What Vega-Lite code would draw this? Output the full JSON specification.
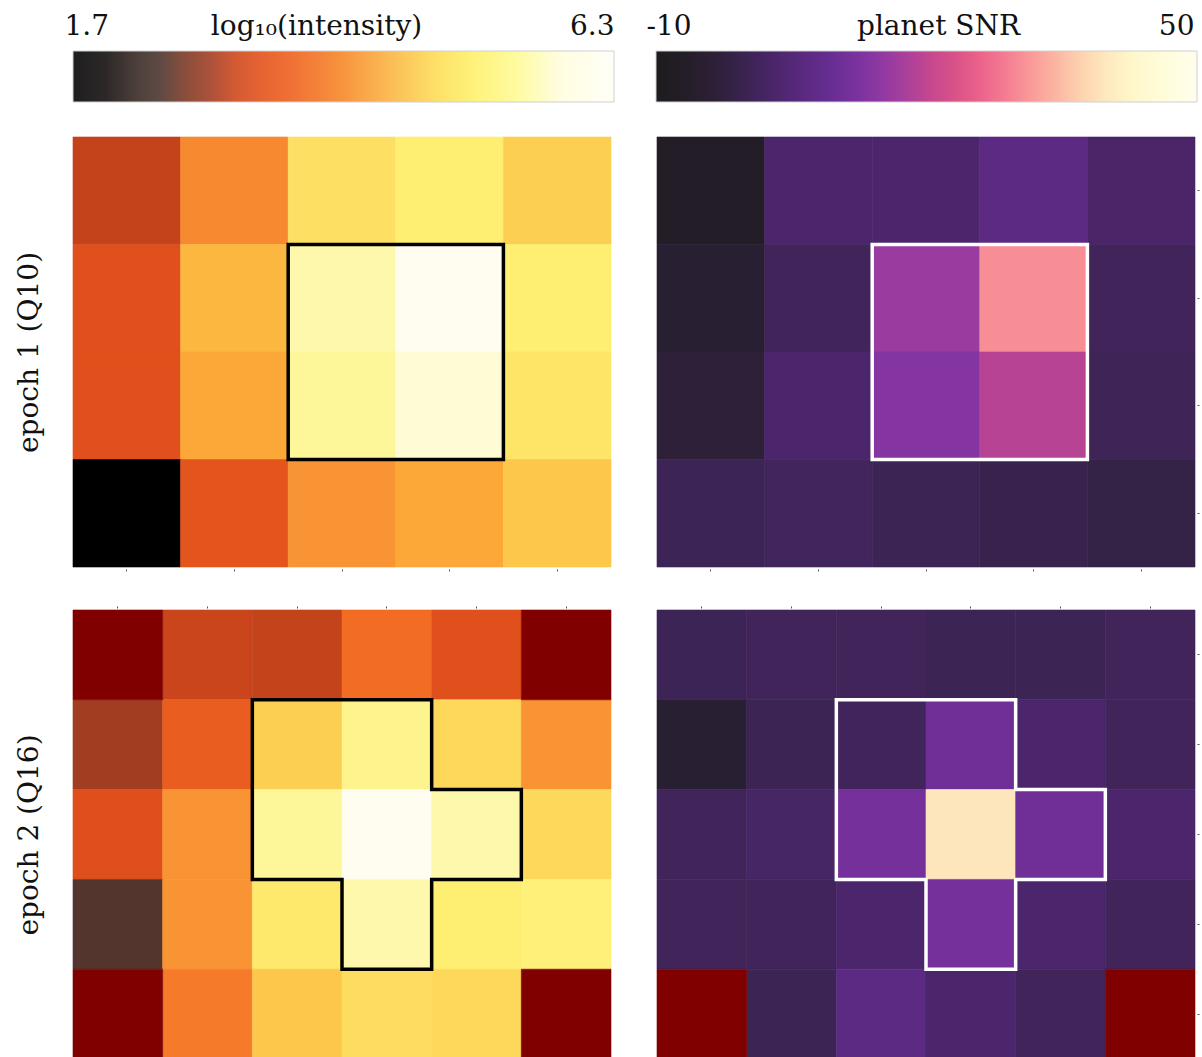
{
  "$schema": "https://vega.github.io/schema/vega-lite/v6.json",
  "background": "white",
  "padding": {"left": 15, "top": 12, "right": 0, "bottom": 0},
  "config": {
    "view": {"stroke": null},
    "font": "DejaVu Serif",
    "axis": {"labelFont": "DejaVu Serif", "titleFont": "DejaVu Serif", "grid": false}
  },
  "datasets": {
    "cbl": [{"lo": 1.7, "hi": 6.3, "k": "cb"}],
    "cbr": [{"lo": -10, "hi": 50, "k": "cb"}],
    "ap1": [{"i": 0, "x": 2, "y": 1}, {"i": 1, "x": 4, "y": 1}, {"i": 2, "x": 4, "y": 3}, {"i": 3, "x": 2, "y": 3}, {"i": 4, "x": 2, "y": 1}],
    "ap2": [{"i": 0, "x": 2, "y": 1}, {"i": 1, "x": 4, "y": 1}, {"i": 2, "x": 4, "y": 2}, {"i": 3, "x": 5, "y": 2}, {"i": 4, "x": 5, "y": 3}, {"i": 5, "x": 4, "y": 3}, {"i": 6, "x": 4, "y": 4}, {"i": 7, "x": 3, "y": 4}, {"i": 8, "x": 3, "y": 3}, {"i": 9, "x": 2, "y": 3}, {"i": 10, "x": 2, "y": 1}],
    "tl": [
      {"c": 0, "r": 0, "v": 3.0}, {"c": 1, "r": 0, "v": 3.9}, {"c": 2, "r": 0, "v": 4.8}, {"c": 3, "r": 0, "v": 5.1}, {"c": 4, "r": 0, "v": 4.6},
      {"c": 0, "r": 1, "v": 3.3}, {"c": 1, "r": 1, "v": 4.35}, {"c": 2, "r": 1, "v": 5.5}, {"c": 3, "r": 1, "v": 6.0}, {"c": 4, "r": 1, "v": 5.1},
      {"c": 0, "r": 2, "v": 3.3}, {"c": 1, "r": 2, "v": 4.2}, {"c": 2, "r": 2, "v": 5.4}, {"c": 3, "r": 2, "v": 5.75}, {"c": 4, "r": 2, "v": 4.9},
      {"c": 0, "r": 3, "v": 1.6}, {"c": 1, "r": 3, "v": 3.35}, {"c": 2, "r": 3, "v": 4.0}, {"c": 3, "r": 3, "v": 4.2}, {"c": 4, "r": 3, "v": 4.5}
    ],
    "bl": [
      {"c": 0, "r": 0, "v": null}, {"c": 1, "r": 0, "v": 3.05}, {"c": 2, "r": 0, "v": 2.98}, {"c": 3, "r": 0, "v": 3.6}, {"c": 4, "r": 0, "v": 3.3}, {"c": 5, "r": 0, "v": null},
      {"c": 0, "r": 1, "v": 2.7}, {"c": 1, "r": 1, "v": 3.45}, {"c": 2, "r": 1, "v": 4.6}, {"c": 3, "r": 1, "v": 5.3}, {"c": 4, "r": 1, "v": 4.7}, {"c": 5, "r": 1, "v": 4.0},
      {"c": 0, "r": 2, "v": 3.28}, {"c": 1, "r": 2, "v": 4.0}, {"c": 2, "r": 2, "v": 5.4}, {"c": 3, "r": 2, "v": 6.0}, {"c": 4, "r": 2, "v": 5.5}, {"c": 5, "r": 2, "v": 4.7},
      {"c": 0, "r": 3, "v": 2.3}, {"c": 1, "r": 3, "v": 4.0}, {"c": 2, "r": 3, "v": 5.0}, {"c": 3, "r": 3, "v": 5.5}, {"c": 4, "r": 3, "v": 5.1}, {"c": 5, "r": 3, "v": 5.15},
      {"c": 0, "r": 4, "v": null}, {"c": 1, "r": 4, "v": 3.75}, {"c": 2, "r": 4, "v": 4.5}, {"c": 3, "r": 4, "v": 4.75}, {"c": 4, "r": 4, "v": 4.7}, {"c": 5, "r": 4, "v": null}
    ],
    "tr": [
      {"c": 0, "r": 0, "v": -8}, {"c": 1, "r": 0, "v": 3.5}, {"c": 2, "r": 0, "v": 3.5}, {"c": 3, "r": 0, "v": 7}, {"c": 4, "r": 0, "v": 3},
      {"c": 0, "r": 1, "v": -5}, {"c": 1, "r": 1, "v": 1.0}, {"c": 2, "r": 1, "v": 16}, {"c": 3, "r": 1, "v": 30.5}, {"c": 4, "r": 1, "v": 1.0},
      {"c": 0, "r": 2, "v": -3.5}, {"c": 1, "r": 2, "v": 3.5}, {"c": 2, "r": 2, "v": 13.5}, {"c": 3, "r": 2, "v": 19}, {"c": 4, "r": 2, "v": 0.7},
      {"c": 0, "r": 3, "v": 0.5}, {"c": 1, "r": 3, "v": 1.5}, {"c": 2, "r": 3, "v": 0.2}, {"c": 3, "r": 3, "v": -0.5}, {"c": 4, "r": 3, "v": -1.5}
    ],
    "br": [
      {"c": 0, "r": 0, "v": 0.5}, {"c": 1, "r": 0, "v": 1.0}, {"c": 2, "r": 0, "v": 1.0}, {"c": 3, "r": 0, "v": 0.2}, {"c": 4, "r": 0, "v": 0.3}, {"c": 5, "r": 0, "v": 1.0},
      {"c": 0, "r": 1, "v": -5}, {"c": 1, "r": 1, "v": 0.3}, {"c": 2, "r": 1, "v": 1.0}, {"c": 3, "r": 1, "v": 10.5}, {"c": 4, "r": 1, "v": 3.5}, {"c": 5, "r": 1, "v": 1.0},
      {"c": 0, "r": 2, "v": 1.0}, {"c": 1, "r": 2, "v": 2.5}, {"c": 2, "r": 2, "v": 11.5}, {"c": 3, "r": 2, "v": 39.5}, {"c": 4, "r": 2, "v": 10.5}, {"c": 5, "r": 2, "v": 3.5},
      {"c": 0, "r": 3, "v": 1.0}, {"c": 1, "r": 3, "v": 1.0}, {"c": 2, "r": 3, "v": 3.5}, {"c": 3, "r": 3, "v": 11.5}, {"c": 4, "r": 3, "v": 3.5}, {"c": 5, "r": 3, "v": 1.0},
      {"c": 0, "r": 4, "v": null}, {"c": 1, "r": 4, "v": 0.3}, {"c": 2, "r": 4, "v": 7}, {"c": 3, "r": 4, "v": 3.5}, {"c": 4, "r": 4, "v": 1.0}, {"c": 5, "r": 4, "v": null}
    ]
  },
  "resolve": {"scale": {"color": "independent", "stroke": "independent", "x": "independent", "y": "independent"}},
  "spacing": 33,
  "vconcat": [
    {
      "hconcat": [
        {
          "width": 541, "height": 51,
          "data": {"name": "cbl"},
          "mark": {"type": "rect", "stroke": "#d0d0d0", "strokeWidth": 1,
            "fill": {"gradient": "linear", "x1": 0, "y1": 0, "x2": 1, "y2": 0, "stops": [
              {"offset": 0, "color": "#1e1e1e"}, {"offset": 0.06, "color": "#2c2828"}, {"offset": 0.12, "color": "#4e403b"},
              {"offset": 0.16, "color": "#5e4a44"}, {"offset": 0.21, "color": "#8c4e3b"}, {"offset": 0.26, "color": "#b0523a"},
              {"offset": 0.30, "color": "#d45a33"}, {"offset": 0.36, "color": "#e86632"}, {"offset": 0.40, "color": "#ef7034"},
              {"offset": 0.46, "color": "#f4853a"}, {"offset": 0.50, "color": "#f7953e"}, {"offset": 0.58, "color": "#fbb955"},
              {"offset": 0.67, "color": "#fde067"}, {"offset": 0.74, "color": "#fef27a"}, {"offset": 0.82, "color": "#fefba0"},
              {"offset": 0.90, "color": "#fffde0"}, {"offset": 1, "color": "#fffff8"}]}},
          "encoding": {
            "x": {"field": "lo", "type": "quantitative", "scale": {"domain": [1.7, 6.3], "nice": false, "zero": false},
              "axis": {"orient": "top", "values": [1.7, 6.3], "format": ".1f", "domain": false, "ticks": false, "tickSize": 0,
                "labelFontSize": 28, "labelColor": "#111", "labelPadding": 17, "labelBaseline": "alphabetic", "labelFlush": true,
                "labelOffset": {"condition": {"test": "datum.value < 3", "value": -9}, "value": 0},
                "title": "log₁₀(intensity)", "titleFontSize": 28, "titleFontWeight": "normal", "titleColor": "#111",
                "titleX": 243, "titleY": -17, "titleAlign": "center", "titleBaseline": "alphabetic"}},
            "x2": {"field": "hi"},
            "y": {"field": "k", "type": "nominal", "scale": {"paddingInner": 0, "paddingOuter": 0},
              "axis": {"labels": false, "ticks": false, "domain": false, "title": "e", "titleOpacity": 0, "titleFontSize": 28, "titleFontWeight": "normal", "titlePadding": 30}}
          }
        },
        {
          "width": 541, "height": 51,
          "data": {"name": "cbr"},
          "mark": {"type": "rect", "stroke": "#d0d0d0", "strokeWidth": 1,
            "fill": {"gradient": "linear", "x1": 0, "y1": 0, "x2": 1, "y2": 0, "stops": [
              {"offset": 0, "color": "#1e1c1f"}, {"offset": 0.04, "color": "#221d25"}, {"offset": 0.11, "color": "#2d2038"},
              {"offset": 0.175, "color": "#3d2456"}, {"offset": 0.24, "color": "#512773"}, {"offset": 0.32, "color": "#662d91"},
              {"offset": 0.375, "color": "#7c32a0"}, {"offset": 0.415, "color": "#8f38a2"}, {"offset": 0.457, "color": "#a63f9c"},
              {"offset": 0.505, "color": "#c4478f"}, {"offset": 0.553, "color": "#d95288"}, {"offset": 0.594, "color": "#ea608a"},
              {"offset": 0.643, "color": "#f47a92"}, {"offset": 0.69, "color": "#f99898"}, {"offset": 0.73, "color": "#fbb0a0"},
              {"offset": 0.78, "color": "#fdcfae"}, {"offset": 0.83, "color": "#fee8bd"}, {"offset": 0.88, "color": "#fff6cb"},
              {"offset": 0.93, "color": "#fffcd8"}, {"offset": 1, "color": "#fffeec"}]}},
          "encoding": {
            "x": {"field": "lo", "type": "quantitative", "scale": {"domain": [-10, 50], "nice": false, "zero": false},
              "axis": {"orient": "top", "values": [-10, 50], "format": "d", "labelExpr": "replace(datum.label, '−', '-')", "domain": false, "ticks": false, "tickSize": 0,
                "labelFontSize": 28, "labelColor": "#111", "labelPadding": 17, "labelBaseline": "alphabetic", "labelFlush": true,
                "labelOffset": {"condition": {"test": "datum.value < 0", "value": -10}, "value": -3},
                "title": "planet SNR", "titleFontSize": 28, "titleFontWeight": "normal", "titleColor": "#111",
                "titleX": 282, "titleY": -17, "titleAlign": "center", "titleBaseline": "alphabetic"}},
            "x2": {"field": "hi"}
          }
        }
      ],
      "spacing": 31,
      "resolve": {"scale": {"x": "independent", "y": "independent"}}
    },
    {
      "vconcat": [
        {
          "hconcat": [
            {
              "width": 538, "height": 430,
              "layer": [
                {
                  "data": {"name": "tl"},
                  "mark": {"type": "rect", "strokeWidth": 0.6},
                  "encoding": {
                    "x": {"field": "c", "type": "ordinal", "scale": {"paddingInner": 0, "paddingOuter": 0},
                      "axis": {"orient": "bottom", "labels": false, "domain": false, "ticks": true, "tickSize": 2, "tickColor": "#555", "offset": 2, "title": null}},
                    "y": {"field": "r", "type": "ordinal", "scale": {"paddingInner": 0, "paddingOuter": 0},
                      "axis": {"labels": false, "ticks": false, "domain": false, "title": "epoch 1 (Q10)", "titleFontSize": 28, "titleFontWeight": "normal", "titleColor": "#111", "titlePadding": 30}},
                    "color": {"field": "v", "type": "quantitative", "legend": null,
                      "scale": {"type": "linear", "clamp": true, "interpolate": "rgb",
                        "domain": [1.7, 2.0, 2.3, 2.7, 3.0, 3.3, 3.6, 3.9, 4.2, 4.5, 4.8, 5.1, 5.4, 5.7, 6.0, 6.3],
                        "range": ["#000000", "#2a1c18", "#54352d", "#a33d21", "#c5431b", "#e0501c", "#f26c24", "#f78a30", "#fba838", "#fcc74a", "#fde063", "#feee72", "#fef79a", "#fefbd0", "#fffdf0", "#fffff8"]}},
                    "stroke": {"field": "v", "type": "quantitative", "legend": null,
                      "scale": {"type": "linear", "clamp": true, "interpolate": "rgb",
                        "domain": [1.7, 2.0, 2.3, 2.7, 3.0, 3.3, 3.6, 3.9, 4.2, 4.5, 4.8, 5.1, 5.4, 5.7, 6.0, 6.3],
                        "range": ["#000000", "#2a1c18", "#54352d", "#a33d21", "#c5431b", "#e0501c", "#f26c24", "#f78a30", "#fba838", "#fcc74a", "#fde063", "#feee72", "#fef79a", "#fefbd0", "#fffdf0", "#fffff8"]}}
                  }
                },
                {
                  "data": {"name": "ap1"},
                  "mark": {"type": "line", "stroke": "black", "strokeWidth": 3.5, "strokeJoin": "miter", "strokeCap": "square", "clip": false},
                  "encoding": {
                    "x": {"field": "x", "type": "quantitative", "scale": {"domain": [0, 5], "nice": false, "zero": false}, "axis": null},
                    "y": {"field": "y", "type": "quantitative", "scale": {"domain": [0, 4], "nice": false, "zero": false, "reverse": true}, "axis": null},
                    "order": {"field": "i"}
                  }
                }
              ],
              "resolve": {"scale": {"x": "independent", "y": "independent"}}
            },
            {
              "width": 538, "height": 430,
              "layer": [
                {
                  "data": {"name": "tr"},
                  "mark": {"type": "rect", "strokeWidth": 0.6},
                  "encoding": {
                    "x": {"field": "c", "type": "ordinal", "scale": {"paddingInner": 0, "paddingOuter": 0},
                      "axis": {"orient": "bottom", "labels": false, "domain": false, "ticks": true, "tickSize": 2, "tickColor": "#555", "offset": 2, "title": null}},
                    "y": {"field": "r", "type": "ordinal", "scale": {"paddingInner": 0, "paddingOuter": 0},
                      "axis": {"orient": "right", "labels": false, "domain": false, "ticks": true, "tickSize": 2, "tickColor": "#555", "offset": 2, "title": null}},
                    "color": {"field": "v", "type": "quantitative", "legend": null,
                      "scale": {"type": "linear", "clamp": true, "interpolate": "rgb",
                        "domain": [-10, -3.4, 0.5, 4.4, 9.2, 12.5, 14.9, 17.4, 20.3, 23.2, 25.6, 28.6, 31.4, 33.8, 36.8, 39.8, 42.8, 45.8, 50],
                        "range": ["#1e1c1f", "#2d2038", "#3d2456", "#512773", "#662d91", "#7c32a0", "#8f38a2", "#a63f9c", "#c4478f", "#d95288", "#ea608a", "#f47a92", "#f99898", "#fbb0a0", "#fdcfae", "#fee8bd", "#fff6cb", "#fffcd8", "#fffeec"]}},
                    "stroke": {"field": "v", "type": "quantitative", "legend": null,
                      "scale": {"type": "linear", "clamp": true, "interpolate": "rgb",
                        "domain": [-10, -3.4, 0.5, 4.4, 9.2, 12.5, 14.9, 17.4, 20.3, 23.2, 25.6, 28.6, 31.4, 33.8, 36.8, 39.8, 42.8, 45.8, 50],
                        "range": ["#1e1c1f", "#2d2038", "#3d2456", "#512773", "#662d91", "#7c32a0", "#8f38a2", "#a63f9c", "#c4478f", "#d95288", "#ea608a", "#f47a92", "#f99898", "#fbb0a0", "#fdcfae", "#fee8bd", "#fff6cb", "#fffcd8", "#fffeec"]}}
                  }
                },
                {
                  "data": {"name": "ap1"},
                  "mark": {"type": "line", "stroke": "white", "strokeWidth": 3.5, "strokeJoin": "miter", "strokeCap": "square", "clip": false},
                  "encoding": {
                    "x": {"field": "x", "type": "quantitative", "scale": {"domain": [0, 5], "nice": false, "zero": false}, "axis": null},
                    "y": {"field": "y", "type": "quantitative", "scale": {"domain": [0, 4], "nice": false, "zero": false, "reverse": true}, "axis": null},
                    "order": {"field": "i"}
                  }
                }
              ],
              "resolve": {"scale": {"x": "independent", "y": "independent"}}
            }
          ],
          "spacing": 44,
          "resolve": {"scale": {"color": "independent", "stroke": "independent", "x": "independent", "y": "independent"}}
        },
        {
          "hconcat": [
            {
              "width": 538, "height": 449,
              "layer": [
                {
                  "layer": [
                    {
                      "data": {"name": "bl"},
                      "transform": [{"filter": "isValid(datum.v)"}],
                      "mark": {"type": "rect", "strokeWidth": 0.6},
                      "encoding": {
                        "x": {"field": "c", "type": "ordinal", "scale": {"domain": [0, 1, 2, 3, 4, 5], "paddingInner": 0, "paddingOuter": 0},
                          "axis": {"orient": "top", "labels": false, "domain": false, "ticks": true, "tickSize": 2, "tickColor": "#555", "offset": 2, "title": null}},
                        "y": {"field": "r", "type": "ordinal", "scale": {"domain": [0, 1, 2, 3, 4], "paddingInner": 0, "paddingOuter": 0},
                          "axis": {"labels": false, "ticks": false, "domain": false, "title": "epoch 2 (Q16)", "titleFontSize": 28, "titleFontWeight": "normal", "titleColor": "#111", "titlePadding": 30}},
                        "color": {"field": "v", "type": "quantitative", "legend": null,
                          "scale": {"type": "linear", "clamp": true, "interpolate": "rgb",
                            "domain": [1.7, 2.0, 2.3, 2.7, 3.0, 3.3, 3.6, 3.9, 4.2, 4.5, 4.8, 5.1, 5.4, 5.7, 6.0, 6.3],
                            "range": ["#000000", "#2a1c18", "#54352d", "#a33d21", "#c5431b", "#e0501c", "#f26c24", "#f78a30", "#fba838", "#fcc74a", "#fde063", "#feee72", "#fef79a", "#fefbd0", "#fffdf0", "#fffff8"]}},
                        "stroke": {"field": "v", "type": "quantitative", "legend": null,
                          "scale": {"type": "linear", "clamp": true, "interpolate": "rgb",
                            "domain": [1.7, 2.0, 2.3, 2.7, 3.0, 3.3, 3.6, 3.9, 4.2, 4.5, 4.8, 5.1, 5.4, 5.7, 6.0, 6.3],
                            "range": ["#000000", "#2a1c18", "#54352d", "#a33d21", "#c5431b", "#e0501c", "#f26c24", "#f78a30", "#fba838", "#fcc74a", "#fde063", "#feee72", "#fef79a", "#fefbd0", "#fffdf0", "#fffff8"]}}
                      }
                    },
                    {
                      "data": {"name": "bl"},
                      "transform": [{"filter": "!isValid(datum.v)"}],
                      "mark": {"type": "rect", "color": "#800000", "stroke": "#800000", "strokeWidth": 0.6},
                      "encoding": {
                        "x": {"field": "c", "type": "ordinal"},
                        "y": {"field": "r", "type": "ordinal"}
                      }
                    }
                  ]
                },
                {
                  "data": {"name": "ap2"},
                  "mark": {"type": "line", "stroke": "black", "strokeWidth": 3.5, "strokeJoin": "miter", "strokeCap": "square", "clip": false},
                  "encoding": {
                    "x": {"field": "x", "type": "quantitative", "scale": {"domain": [0, 6], "nice": false, "zero": false}, "axis": null},
                    "y": {"field": "y", "type": "quantitative", "scale": {"domain": [0, 5], "nice": false, "zero": false, "reverse": true}, "axis": null},
                    "order": {"field": "i"}
                  }
                }
              ],
              "resolve": {"scale": {"x": "independent", "y": "independent"}}
            },
            {
              "width": 538, "height": 449,
              "layer": [
                {
                  "layer": [
                    {
                      "data": {"name": "br"},
                      "transform": [{"filter": "isValid(datum.v)"}],
                      "mark": {"type": "rect", "strokeWidth": 0.6},
                      "encoding": {
                        "x": {"field": "c", "type": "ordinal", "scale": {"domain": [0, 1, 2, 3, 4, 5], "paddingInner": 0, "paddingOuter": 0},
                          "axis": {"orient": "top", "labels": false, "domain": false, "ticks": true, "tickSize": 2, "tickColor": "#555", "offset": 2, "title": null}},
                        "y": {"field": "r", "type": "ordinal", "scale": {"domain": [0, 1, 2, 3, 4], "paddingInner": 0, "paddingOuter": 0},
                          "axis": {"orient": "right", "labels": false, "domain": false, "ticks": true, "tickSize": 2, "tickColor": "#555", "offset": 2, "title": null}},
                        "color": {"field": "v", "type": "quantitative", "legend": null,
                          "scale": {"type": "linear", "clamp": true, "interpolate": "rgb",
                            "domain": [-10, -3.4, 0.5, 4.4, 9.2, 12.5, 14.9, 17.4, 20.3, 23.2, 25.6, 28.6, 31.4, 33.8, 36.8, 39.8, 42.8, 45.8, 50],
                            "range": ["#1e1c1f", "#2d2038", "#3d2456", "#512773", "#662d91", "#7c32a0", "#8f38a2", "#a63f9c", "#c4478f", "#d95288", "#ea608a", "#f47a92", "#f99898", "#fbb0a0", "#fdcfae", "#fee8bd", "#fff6cb", "#fffcd8", "#fffeec"]}},
                        "stroke": {"field": "v", "type": "quantitative", "legend": null,
                          "scale": {"type": "linear", "clamp": true, "interpolate": "rgb",
                            "domain": [-10, -3.4, 0.5, 4.4, 9.2, 12.5, 14.9, 17.4, 20.3, 23.2, 25.6, 28.6, 31.4, 33.8, 36.8, 39.8, 42.8, 45.8, 50],
                            "range": ["#1e1c1f", "#2d2038", "#3d2456", "#512773", "#662d91", "#7c32a0", "#8f38a2", "#a63f9c", "#c4478f", "#d95288", "#ea608a", "#f47a92", "#f99898", "#fbb0a0", "#fdcfae", "#fee8bd", "#fff6cb", "#fffcd8", "#fffeec"]}}
                      }
                    },
                    {
                      "data": {"name": "br"},
                      "transform": [{"filter": "!isValid(datum.v)"}],
                      "mark": {"type": "rect", "color": "#800000", "stroke": "#800000", "strokeWidth": 0.6},
                      "encoding": {
                        "x": {"field": "c", "type": "ordinal"},
                        "y": {"field": "r", "type": "ordinal"}
                      }
                    }
                  ]
                },
                {
                  "data": {"name": "ap2"},
                  "mark": {"type": "line", "stroke": "white", "strokeWidth": 3.5, "strokeJoin": "miter", "strokeCap": "square", "clip": false},
                  "encoding": {
                    "x": {"field": "x", "type": "quantitative", "scale": {"domain": [0, 6], "nice": false, "zero": false}, "axis": null},
                    "y": {"field": "y", "type": "quantitative", "scale": {"domain": [0, 5], "nice": false, "zero": false, "reverse": true}, "axis": null},
                    "order": {"field": "i"}
                  }
                }
              ],
              "resolve": {"scale": {"x": "independent", "y": "independent"}}
            }
          ],
          "spacing": 44,
          "resolve": {"scale": {"color": "independent", "stroke": "independent", "x": "independent", "y": "independent"}}
        }
      ],
      "spacing": 33,
      "resolve": {"scale": {"color": "independent", "stroke": "independent", "x": "independent", "y": "independent"}}
    }
  ]
}
